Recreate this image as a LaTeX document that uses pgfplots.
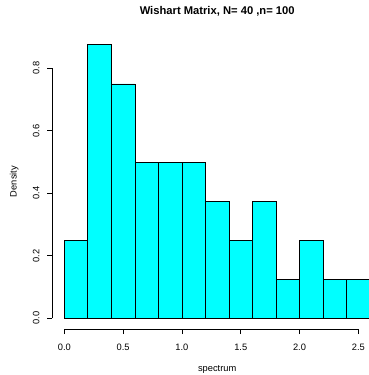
\documentclass[border=0pt]{standalone}
\usepackage{pgfplots}
\pgfplotsset{compat=1.18}
\usepackage{fontspec}
\setmainfont{Liberation Sans}
\definecolor{rcyan}{RGB}{0,255,255}
\begin{document}
\begin{tikzpicture}
\begin{axis}[
  name=ax,
  at={(0,0)}, anchor=south west,
  scale only axis,
  width=330.2pt, height=295.3pt,
  xmin=-0.104, xmax=2.704,
  ymin=-0.035, ymax=0.91,
  clip=false,
  axis x line*=bottom, axis y line*=left,
  axis line style={draw=none},
  xtick={0,0.5,1,1.5,2,2.5},
  ytick={0,0.2,0.4,0.6,0.8},
  xticklabels={}, yticklabels={},
  tick align=outside,
  major tick length=5pt,
  tick style={black, line width=0.6pt},
]
\addplot[ybar interval, fill=rcyan, draw=black, line width=0.7pt]
coordinates {(0,0.25) (0.2,0.875) (0.4,0.75) (0.6,0.5) (0.8,0.5) (1.0,0.5) (1.2,0.375) (1.4,0.25) (1.6,0.375) (1.8,0.125) (2.0,0.25) (2.2,0.125) (2.4,0.125) (2.6,0.125)};
\draw[black, line width=0.6pt] (axis cs:0,-0.035) -- (axis cs:2.5,-0.035);
\draw[black, line width=0.6pt] (axis cs:-0.104,0) -- (axis cs:-0.104,0.8);
\node[anchor=base, font=\fontsize{9.3}{10}\selectfont, inner sep=0pt] at ([yshift=-20.8pt]axis cs:0,-0.035) {0.0};
\node[anchor=base, font=\fontsize{9.3}{10}\selectfont, inner sep=0pt] at ([yshift=-20.8pt]axis cs:0.5,-0.035) {0.5};
\node[anchor=base, font=\fontsize{9.3}{10}\selectfont, inner sep=0pt] at ([yshift=-20.8pt]axis cs:1,-0.035) {1.0};
\node[anchor=base, font=\fontsize{9.3}{10}\selectfont, inner sep=0pt] at ([yshift=-20.8pt]axis cs:1.5,-0.035) {1.5};
\node[anchor=base, font=\fontsize{9.3}{10}\selectfont, inner sep=0pt] at ([yshift=-20.8pt]axis cs:2,-0.035) {2.0};
\node[anchor=base, font=\fontsize{9.3}{10}\selectfont, inner sep=0pt] at ([yshift=-20.8pt]axis cs:2.5,-0.035) {2.5};
\node[anchor=base, rotate=90, font=\fontsize{9.3}{10}\selectfont, inner sep=0pt] at ([xshift=-12.6pt]axis cs:-0.104,0) {0.0};
\node[anchor=base, rotate=90, font=\fontsize{9.3}{10}\selectfont, inner sep=0pt] at ([xshift=-12.6pt]axis cs:-0.104,0.2) {0.2};
\node[anchor=base, rotate=90, font=\fontsize{9.3}{10}\selectfont, inner sep=0pt] at ([xshift=-12.6pt]axis cs:-0.104,0.4) {0.4};
\node[anchor=base, rotate=90, font=\fontsize{9.3}{10}\selectfont, inner sep=0pt] at ([xshift=-12.6pt]axis cs:-0.104,0.6) {0.6};
\node[anchor=base, rotate=90, font=\fontsize{9.3}{10}\selectfont, inner sep=0pt] at ([xshift=-12.6pt]axis cs:-0.104,0.8) {0.8};
\end{axis}
\node[anchor=base, font=\fontsize{9.3}{10}\selectfont, inner sep=0pt] at (165.1pt,-42.5pt) {spectrum};
\node[anchor=base, rotate=90, font=\fontsize{9.3}{10}\selectfont, inner sep=0pt] at (-35.4pt,147.65pt) {Density};
\node[anchor=base, font=\bfseries\fontsize{11.2}{12}\selectfont, inner sep=0pt] at (165.1pt,314.2pt) {Wishart Matrix, N= 40 ,n= 100};
\pgfresetboundingbox
\path (-52.1pt,-45.8pt) rectangle (315.9pt,329.2pt);
\end{tikzpicture}
\end{document}
